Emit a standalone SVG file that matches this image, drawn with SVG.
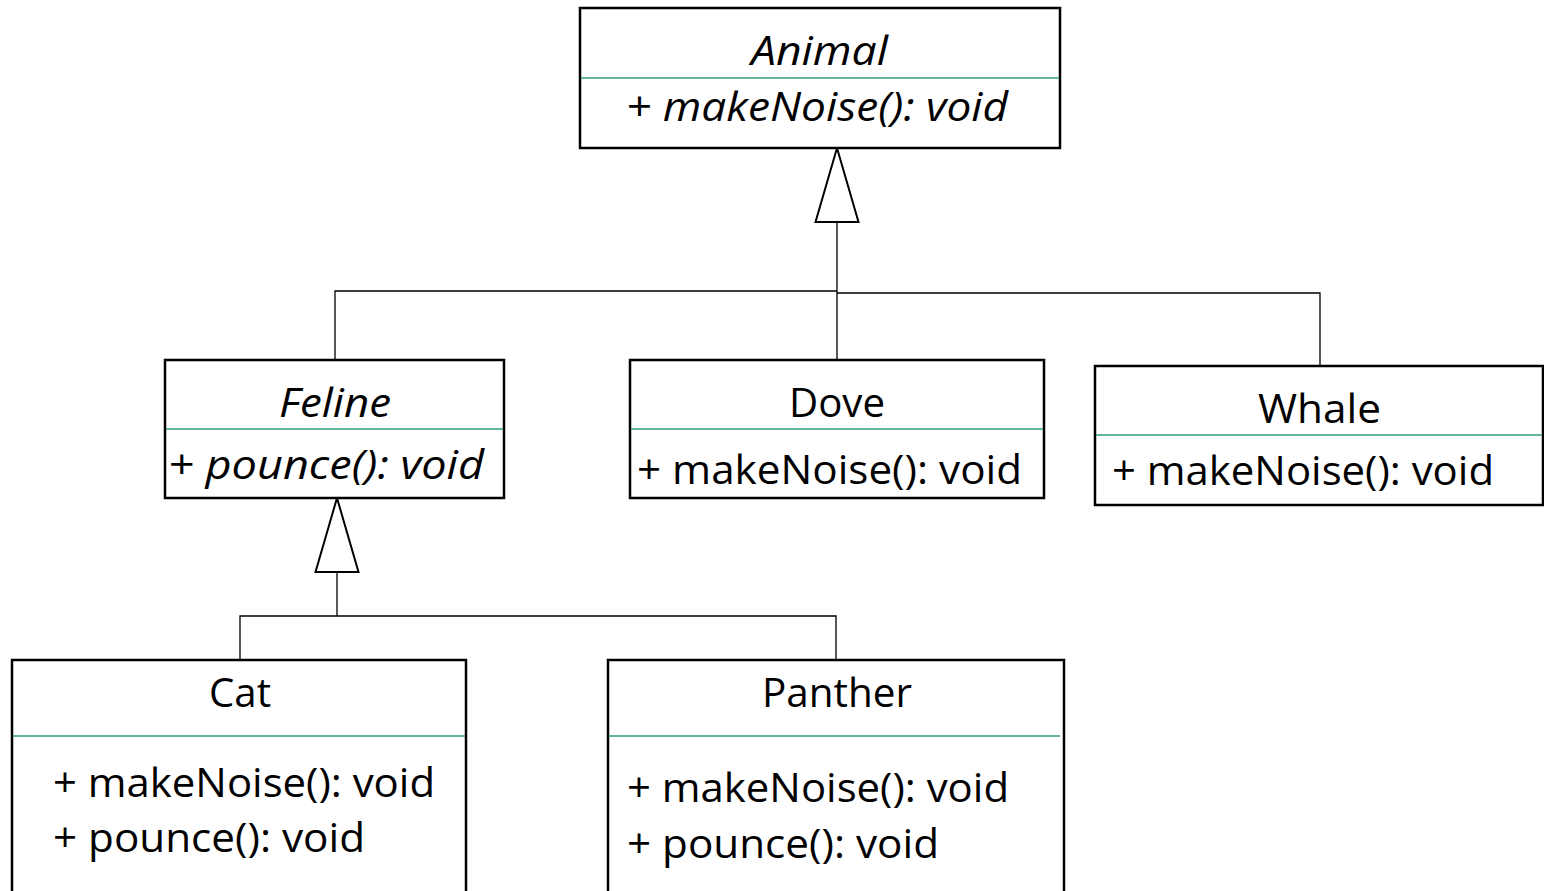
<svg xmlns="http://www.w3.org/2000/svg" width="1544" height="891" viewBox="0 0 1544 891">
<defs>
<style>
.box{fill:#fff;stroke:#000;stroke-width:2.5}
.div{stroke:#2e9c7e;stroke-width:1.3}
.t{font-family:"Open Sans","Liberation Sans",sans-serif;font-size:40px;fill:#000}
.c{text-anchor:middle}
.i{font-style:italic}
.conn{fill:none;stroke:#000;stroke-width:1.3}
</style>
<marker id="gen" markerUnits="userSpaceOnUse" markerWidth="80" markerHeight="50" viewBox="-2 -2 80 50" refX="74" refY="21.5" orient="auto">
<path d="M0,0 L74,21.5 L0,43 Z" fill="#fff" stroke="#000" stroke-width="2"/>
</marker>
</defs>
<rect width="1544" height="891" fill="#fff"/>
<g id="connectors">
<path class="conn" d="M837,293 V148" marker-end="url(#gen)"/>
<path class="conn" d="M335,360 V291 H837"/>
<path class="conn" d="M837,360 V293 H1320 V366"/>
<path class="conn" d="M337,616 V498" marker-end="url(#gen)"/>
<path class="conn" d="M240,660 V616 H836 V660"/>
</g>
<g id="animal">
<rect class="box" x="580" y="8" width="480" height="140"/>
<line class="div" x1="581" y1="78" x2="1059" y2="78"/>
<text class="t i" x="751" y="65" textLength="137" lengthAdjust="spacingAndGlyphs">Animal</text>
<text class="t i" x="626" y="121" textLength="382" lengthAdjust="spacingAndGlyphs">+ makeNoise(): void</text>
</g>
<g id="feline">
<rect class="box" x="165" y="360" width="339" height="138"/>
<line class="div" x1="166" y1="429" x2="503" y2="429"/>
<text class="t i" x="279" y="417" textLength="112" lengthAdjust="spacingAndGlyphs">Feline</text>
<text class="t i" x="168" y="479" textLength="316" lengthAdjust="spacingAndGlyphs">+ pounce(): void</text>
</g>
<g id="dove">
<rect class="box" x="630" y="360" width="414" height="138"/>
<line class="div" x1="631" y1="429" x2="1043" y2="429"/>
<text class="t" x="789" y="417" textLength="96" lengthAdjust="spacingAndGlyphs">Dove</text>
<text class="t" x="637" y="484" textLength="385" lengthAdjust="spacingAndGlyphs">+ makeNoise(): void</text>
</g>
<g id="whale">
<rect class="box" x="1095" y="366" width="448" height="139"/>
<line class="div" x1="1096" y1="435" x2="1542" y2="435"/>
<text class="t" x="1258" y="423" textLength="123" lengthAdjust="spacingAndGlyphs">Whale</text>
<text class="t" x="1112" y="485" textLength="382" lengthAdjust="spacingAndGlyphs">+ makeNoise(): void</text>
</g>
<g id="cat">
<rect class="box" x="12" y="660" width="454" height="250"/>
<line class="div" x1="13" y1="736" x2="465" y2="736"/>
<text class="t" x="209" y="707" textLength="62" lengthAdjust="spacingAndGlyphs">Cat</text>
<text class="t" x="53" y="797" textLength="382" lengthAdjust="spacingAndGlyphs">+ makeNoise(): void</text>
<text class="t" x="53" y="852" textLength="312" lengthAdjust="spacingAndGlyphs">+ pounce(): void</text>
</g>
<g id="panther">
<rect class="box" x="608" y="660" width="456" height="250"/>
<line class="div" x1="609" y1="736" x2="1060" y2="736"/>
<text class="t" x="762" y="707" textLength="150" lengthAdjust="spacingAndGlyphs">Panther</text>
<text class="t" x="627" y="802" textLength="382" lengthAdjust="spacingAndGlyphs">+ makeNoise(): void</text>
<text class="t" x="627" y="858" textLength="312" lengthAdjust="spacingAndGlyphs">+ pounce(): void</text>
</g>
</svg>
